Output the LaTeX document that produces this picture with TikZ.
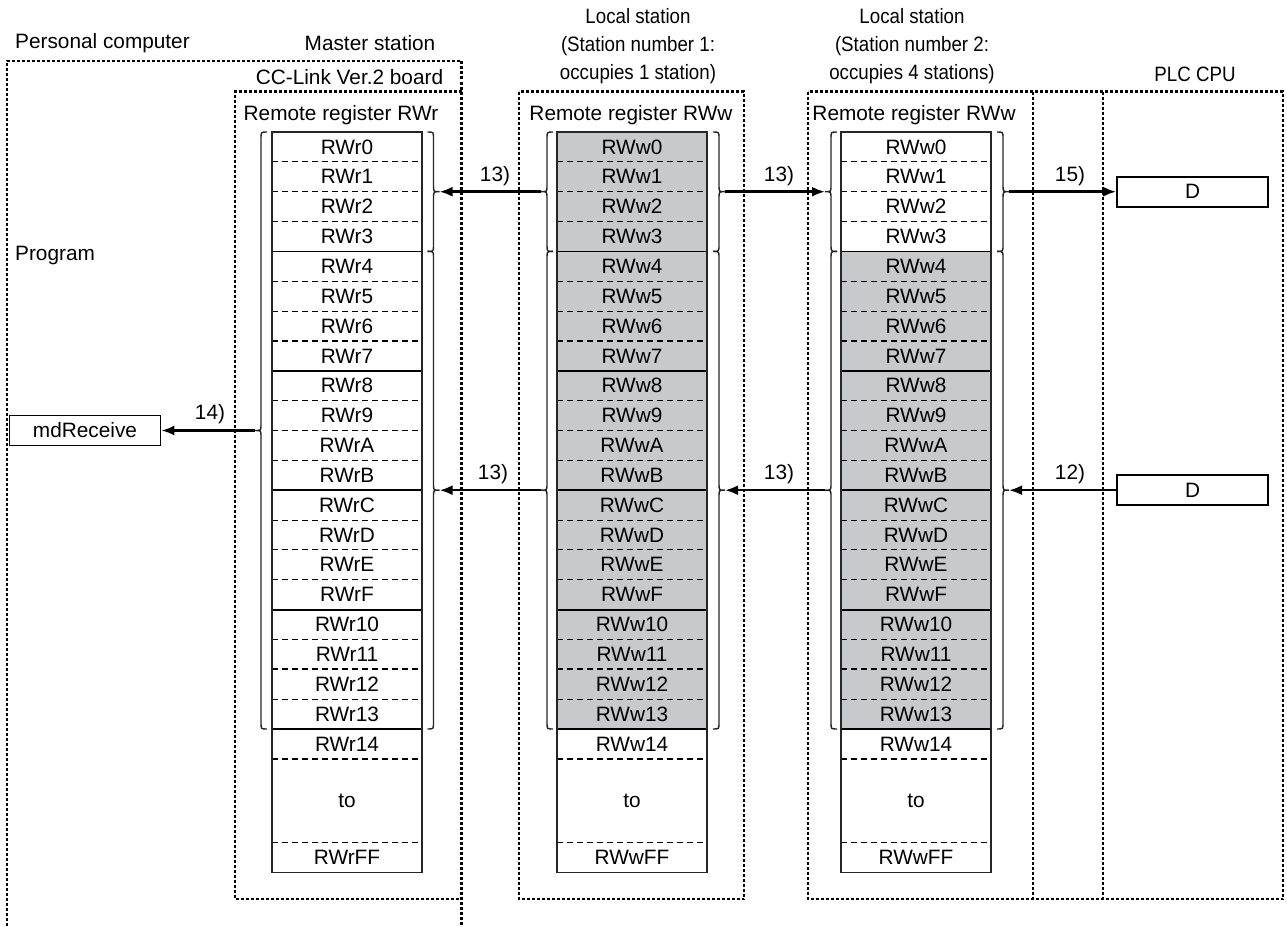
\documentclass[tikz,border=0pt]{standalone}
\usepackage{fontspec}
\setmainfont{Liberation Sans}
\newfontfamily\narrowfont[FakeStretch=0.9]{Liberation Sans}
\usetikzlibrary{arrows.meta}
\definecolor{cellgray}{RGB}{200,201,204}
\tikzset{
  dotbox/.style={line width=2.2pt, dash pattern=on 3pt off 2pt},
  cellline/.style={line width=1.1pt, dash pattern=on 6pt off 4pt},
  thickcell/.style={line width=1.8pt, dash pattern=on 6pt off 4pt},
  grpline/.style={line width=1.8pt},
  colborder/.style={line width=1.6pt, draw=black!85},
  brc/.style={line width=1.4pt, draw=black!85},
  flow/.style={line width=2.5pt, -{Latex[length=13pt,width=10pt]}},
  lbl/.style={inner sep=0pt, font=\fontsize{20.8}{24}\selectfont},
  hdr/.style={inner sep=0pt, align=center, font=\narrowfont\fontsize{20.8}{28}\selectfont},
  pbox/.style={draw, line width=1.6pt, minimum width=151pt, minimum height=30pt, inner sep=0pt, font=\fontsize{20.8}{24}\selectfont},
}
% register column: #1 left x, #2 prefix, #3 first shaded row, #4 name
\newcommand{\regcol}[4]{%
  \pgfmathsetmacro{\xr}{#1+150}%
  \pgfmathsetmacro{\xc}{#1+75}%
  \ifnum#3<20 \fill[cellgray] (#1,{132+#3*29.85}) rectangle (\xr,729);\fi
  \foreach \i in {1,2,3,5,6,7,9,10,11,13,14,15,17,19}{%
    \draw[cellline] (#1,{132+\i*29.85}) -- (\xr,{132+\i*29.85});}
  \draw[thickcell] (#1,{132+18*29.85}) -- (\xr,{132+18*29.85});
  \draw[thickcell] (#1,758.85) -- (\xr,758.85);
  \draw[cellline] (#1,842.3) -- (\xr,842.3);
  \foreach \i in {4,8,16,20}{%
    \draw[grpline] (#1,{132+\i*29.85}) -- (\xr,{132+\i*29.85});}
  \draw[line width=2.4pt] (#1,{132+12*29.85}) -- (\xr,{132+12*29.85});
  \draw[colborder] (#1,132) rectangle (\xr,872.3);
  \foreach \i/\t in {0/0,1/1,2/2,3/3,4/4,5/5,6/6,7/7,8/8,9/9,10/A,11/B,12/C,13/D,14/E,15/F,16/10,17/11,18/12,19/13,20/14}{%
    \node[lbl] (#4-\i) at (\xc,{132+(\i+0.5)*29.85}) {#2\t};}
  \node[lbl] (#4-to) at (\xc,801) {to};
  \node[lbl] (#4-FF) at (\xc,857.3) {#2FF};
}
% right brace "}" : #1 x of vertical, #2 top y, #3 bottom y, #4 tip name
\newcommand{\bracR}[4]{%
  \pgfmathsetmacro{\ym}{(#2+#3)/2}%
  \draw[brc] ({#1-6},#2) .. controls (#1,#2) .. (#1,{#2+6}) -- (#1,{\ym-6})
    .. controls (#1,\ym) .. ({#1+6},\ym) .. controls (#1,\ym) .. (#1,{\ym+6})
    -- (#1,{#3-6}) .. controls (#1,#3) .. ({#1-6},#3);
  \coordinate (#4) at ({#1+6},\ym);
}
% left brace "{"
\newcommand{\bracL}[4]{%
  \pgfmathsetmacro{\ym}{(#2+#3)/2}%
  \draw[brc] ({#1+6},#2) .. controls (#1,#2) .. (#1,{#2+6}) -- (#1,{\ym-6})
    .. controls (#1,\ym) .. ({#1-6},\ym) .. controls (#1,\ym) .. (#1,{\ym+6})
    -- (#1,{#3-6}) .. controls (#1,#3) .. ({#1+6},#3);
  \coordinate (#4) at ({#1-6},\ym);
}
\begin{document}
\begin{tikzpicture}[x=1pt,y=-1pt]
\useasboundingbox (0,0) rectangle (1287,926);
% dotted boxes
\draw[dotbox] (7,926) -- (7,61) -- (461.5,61) -- (461.5,926);
\draw[dotbox] (461.5,91.5) -- (235,91.5) -- (235,899) -- (461.5,899);
\draw[dotbox] (519,91.5) rectangle (744,899);
\draw[dotbox] (808,91.5) rectangle (1283,899);
\draw[dotbox] (1033,91.5) -- (1033,899);
\draw[dotbox] (1103,91.5) -- (1103,899);
% headers
\node[lbl, anchor=west] (pc) at (15,43) {Personal computer};
\node[lbl] (ms) at (370,43) {Master station};
\node[lbl] (cc) at (349.5,77) {CC-Link Ver.2 board};
\node[lbl] (rr) at (341,115) {Remote register RWr};
\node[lbl, anchor=west] (prog) at (15,255) {Program};
\node[hdr] (ls1) at (638,46) {Local station\\(Station number 1:\\occupies 1 station)};
\node[hdr] (ls2) at (912,46) {Local station\\(Station number 2:\\occupies 4 stations)};
\node[hdr] (plc) at (1195,74) {PLC CPU};
\node[lbl] (rw1) at (631,115) {Remote register RWw};
\node[lbl] (rw2) at (914,115) {Remote register RWw};
% columns
\regcol{272}{RWr}{99}{m}
\regcol{557}{RWw}{0}{a}
\regcol{841}{RWw}{4}{b}
% braces
\bracL{261}{132}{729}{mL}
\bracR{433.5}{132}{251.4}{mRA}
\bracR{433.5}{251.4}{729}{mRB}
\bracL{547}{132}{251.4}{aLA}
\bracL{547}{251.4}{729}{aLB}
\bracR{719}{132}{251.4}{aRA}
\bracR{719}{251.4}{729}{aRB}
\bracL{831}{132}{251.4}{bLA}
\bracL{831}{251.4}{729}{bLB}
\bracR{1003}{132}{251.4}{bRA}
\bracR{1003}{251.4}{729}{bRB}
% program / PLC boxes
\node[pbox] (mdr) at (85,430.5) {mdReceive};
\node[pbox] (d1) at (1192.5,191.7) {D};
\node[pbox] (d2) at (1192.5,490.2) {D};
% arrows
\draw[flow] (mL) -- (mdr.east);
\draw[flow] (aLA) -- (mRA);
\draw[flow] (aRA) -- (bLA);
\draw[flow] (bRA) -- (d1.west);
\draw[flow] (d2.west) -- (bRB);
\draw[flow] (bLB) -- (aRB);
\draw[flow] (aLB) -- (mRB);
% step labels
\node[lbl] (l14) at (210,414) {14)};
\node[lbl] (l13a) at (495,176) {13)};
\node[lbl] (l13b) at (779,176) {13)};
\node[lbl] (l15) at (1070,176) {15)};
\node[lbl] (l13c) at (493,474) {13)};
\node[lbl] (l13d) at (779,474) {13)};
\node[lbl] (l12) at (1070,474) {12)};
\end{tikzpicture}
\end{document}
